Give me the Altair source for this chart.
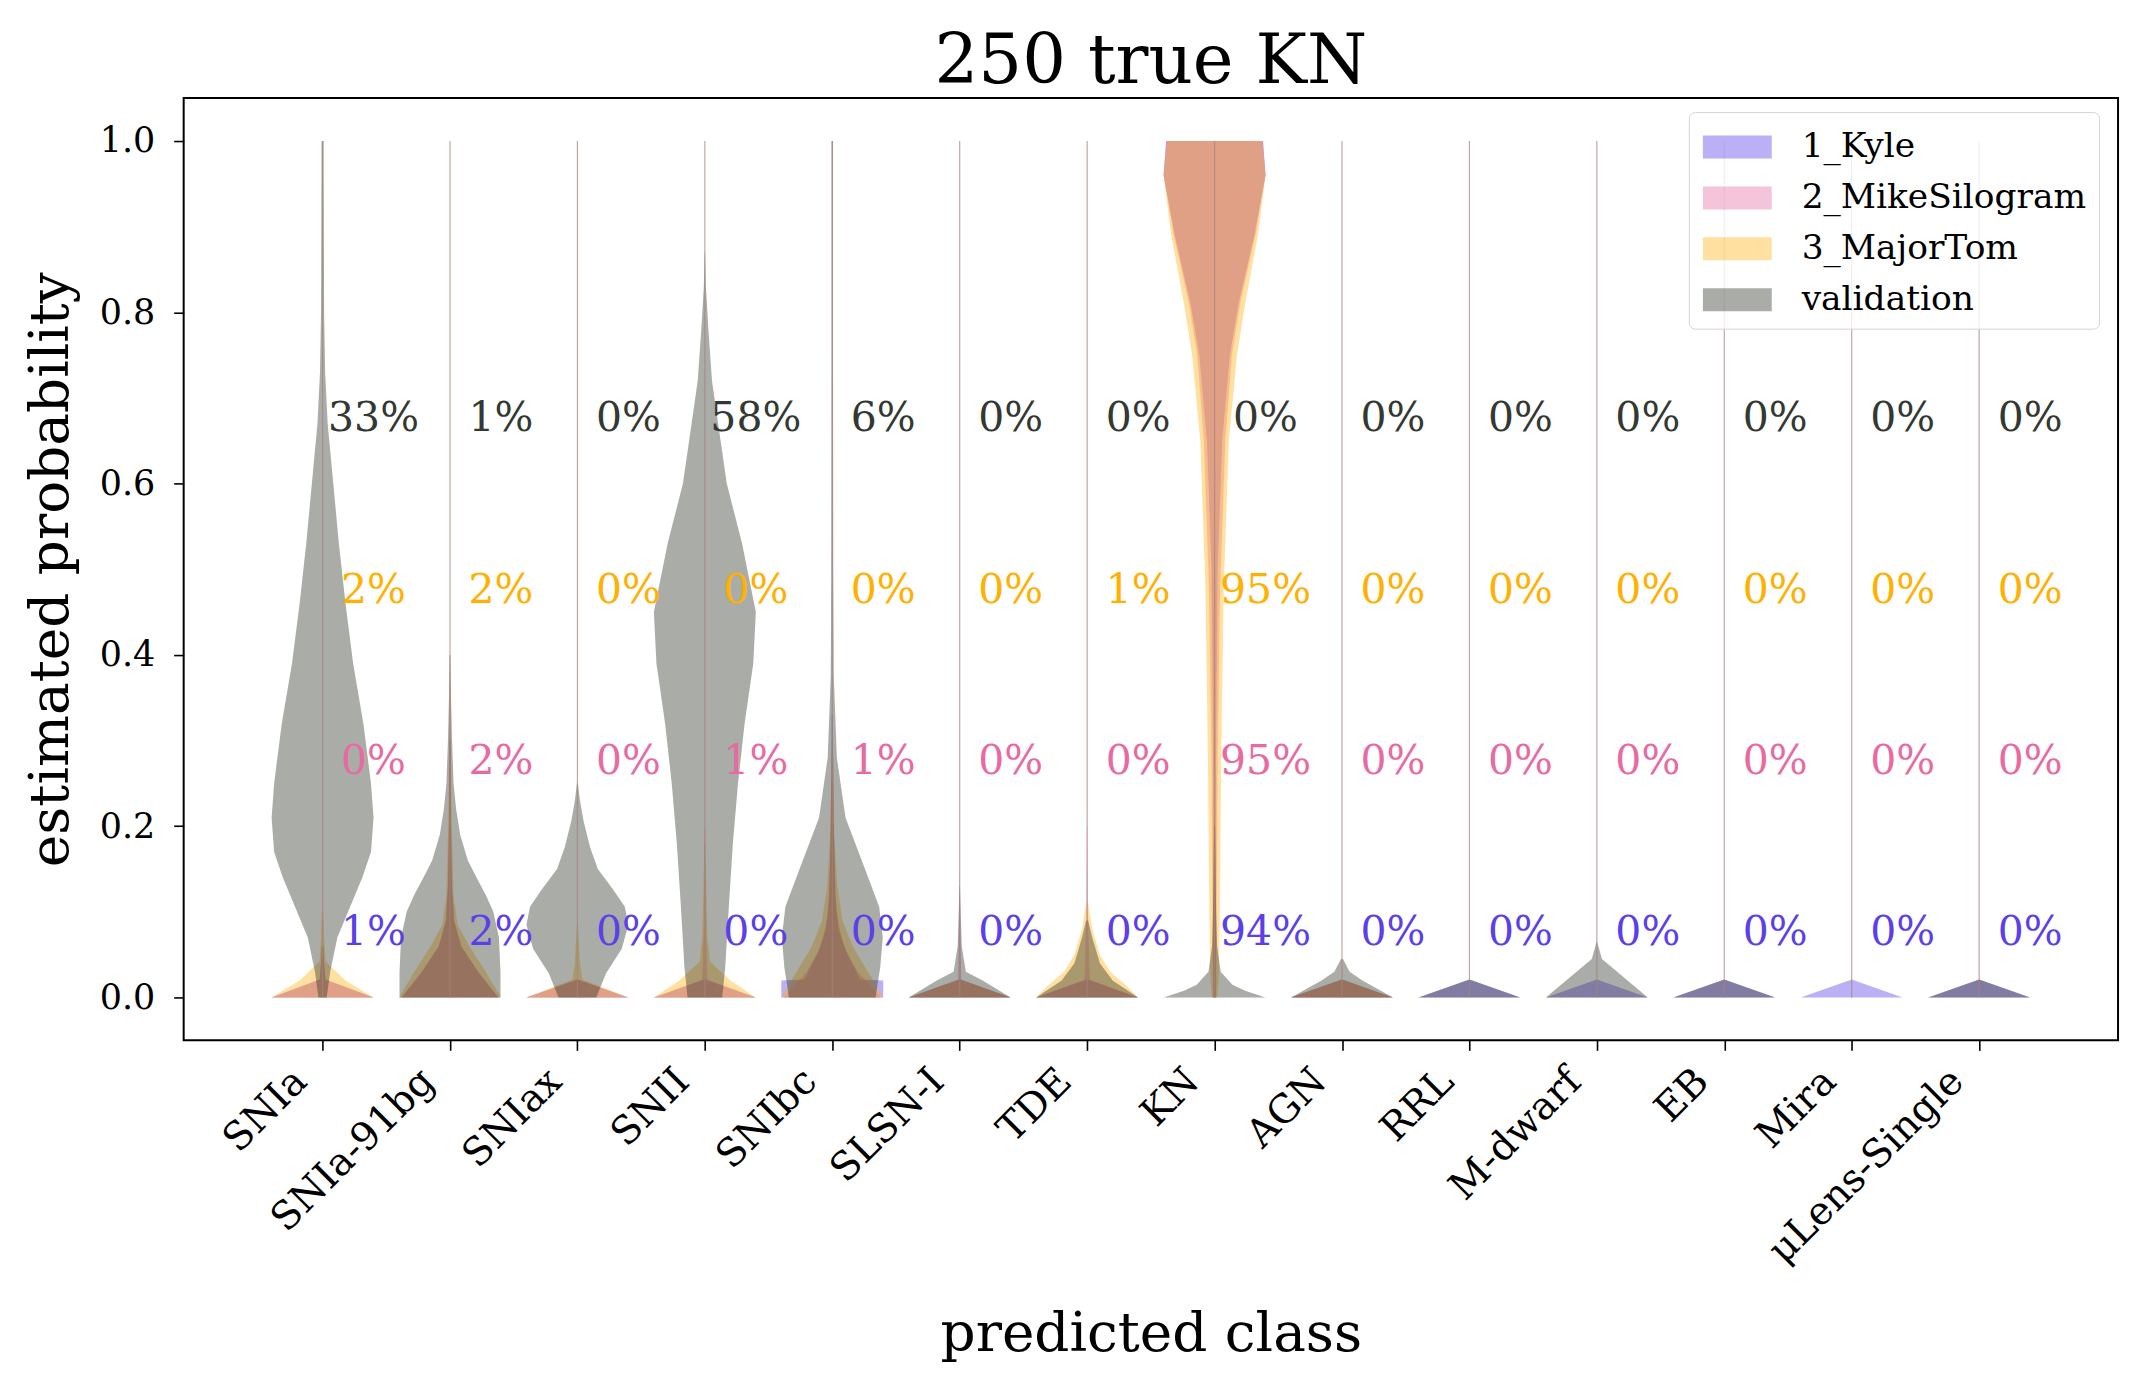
import altair as alt
import pandas as pd

# ---------------- data ----------------
CLASSES = ["SNIa", "SNIa-91bg", "SNIax", "SNII", "SNIbc", "SLSN-I", "TDE", "KN",
           "AGN", "RRL", "M-dwarf", "EB", "Mira", "μLens-Single"]
SERIES = ["1_Kyle", "2_MikeSilogram", "3_MajorTom", "validation"]

# percentage labels (share of objects classified as each class)
PCT_KYLE = [1, 2, 0, 0, 0, 0, 0, 94, 0, 0, 0, 0, 0, 0]
PCT_MIKE = [0, 2, 0, 1, 1, 0, 0, 95, 0, 0, 0, 0, 0, 0]
PCT_TOM = [2, 2, 0, 0, 0, 0, 1, 95, 0, 0, 0, 0, 0, 0]
PCT_VAL = [33, 1, 0, 58, 6, 0, 0, 0, 0, 0, 0, 0, 0, 0]

# violin extrema (thin line from min to max of each class)
VIOLIN_MIN = [0.0, 0.0, 0.0, 0.0, 0.0, 0.0, 0.0, 0.0, 0.0, 0.0, 0.0, 0.0, 0.0, 0.0]
VIOLIN_MAX = [1.0, 1.0, 1.0, 1.0, 1.0, 1.0, 1.0, 1.0, 1.0, 1.0, 1.0, 1.0, 1.0, 1.0]

# violin density profiles: [probability, relative density]
TRI = [[0.0, 1.0], [0.021, 0.0]]

KYLE_PROFILES = [
    [[0.0, 1.0], [0.021, 0.06], [0.04, 0.03], [0.06, 0.02]],
    [[0.0, 0.95], [0.03, 0.55], [0.06, 0.22], [0.09, 0.08], [0.13, 0.04], [0.2, 0.02], [0.3, 0.008]],
    TRI,
    TRI,
    [[0.0, 1.0], [0.02, 1.0], [0.021, 0.55], [0.05, 0.3], [0.08, 0.12], [0.12, 0.06], [0.2, 0.03], [0.33, 0.01]],
    TRI,
    TRI,
    [[0.0, 0.02], [0.3, 0.03], [0.5, 0.06], [0.65, 0.15], [0.75, 0.3], [0.81, 0.47], [0.89, 0.78], [0.96, 1.0], [1.0, 0.95]],
    TRI,
    TRI,
    TRI,
    TRI,
    TRI,
    TRI,
]

MIKE_PROFILES = [
    [[0.0, 1.0], [0.021, 0.05], [0.05, 0.02]],
    [[0.0, 0.95], [0.03, 0.55], [0.06, 0.22], [0.09, 0.08], [0.13, 0.04], [0.2, 0.02], [0.3, 0.008]],
    TRI,
    [[0.0, 1.0], [0.021, 0.05], [0.08, 0.02], [0.2, 0.006]],
    [[0.0, 0.95], [0.03, 0.5], [0.06, 0.22], [0.1, 0.08], [0.16, 0.04], [0.25, 0.015]],
    [[0.0, 1.0], [0.021, 0.03], [0.1, 0.008], [0.15, 0.003]],
    [[0.0, 1.0], [0.021, 0.05], [0.1, 0.015], [0.2, 0.005]],
    [[0.0, 0.03], [0.08, 0.04], [0.28, 0.06], [0.48, 0.11], [0.65, 0.21], [0.75, 0.34], [0.81, 0.5], [0.89, 0.8], [0.96, 1.0], [1.0, 0.95]],
    TRI,
    None, None, None, None, None,
]

TOM_PROFILES = [
    [[0.0, 1.0], [0.02, 0.45], [0.042, 0.06], [0.07, 0.03], [0.1, 0.015]],
    [[0.0, 1.0], [0.03, 0.7], [0.06, 0.38], [0.085, 0.15], [0.12, 0.07], [0.2, 0.035], [0.3, 0.015], [0.38, 0.004]],
    [[0.0, 1.0], [0.021, 0.1], [0.04, 0.05], [0.085, 0.01]],
    [[0.0, 1.0], [0.02, 0.5], [0.042, 0.1], [0.07, 0.05], [0.12, 0.03], [0.18, 0.01]],
    [[0.0, 1.0], [0.03, 0.7], [0.06, 0.4], [0.09, 0.2], [0.13, 0.1], [0.19, 0.04], [0.3, 0.01]],
    TRI,
    [[0.0, 1.0], [0.015, 0.75], [0.03, 0.45], [0.05, 0.25], [0.08, 0.1], [0.11, 0.02]],
    [[0.0, 0.05], [0.02, 0.08], [0.085, 0.1], [0.28, 0.13], [0.48, 0.18], [0.65, 0.28], [0.75, 0.44], [0.81, 0.6], [0.89, 0.85], [0.96, 1.0], [1.0, 0.93]],
    TRI,
    None, None, None, None, None,
]

VAL_PROFILES = [
    [[0.0, 0.08], [0.03, 0.15], [0.07, 0.29], [0.1, 0.5], [0.14, 0.78], [0.17, 0.95], [0.21, 1.0], [0.25, 0.95],
     [0.32, 0.8], [0.39, 0.6], [0.46, 0.45], [0.53, 0.32], [0.6, 0.21], [0.67, 0.1], [0.73, 0.05], [0.8, 0.03],
     [0.9, 0.025], [1.0, 0.02]],
    [[0.0, 0.99], [0.03, 0.99], [0.07, 0.96], [0.1, 0.85], [0.12, 0.7], [0.14, 0.52], [0.16, 0.35], [0.19, 0.2],
     [0.22, 0.12], [0.25, 0.07], [0.3, 0.04], [0.35, 0.02], [0.4, 0.01]],
    [[0.0, 0.37], [0.028, 0.56], [0.057, 0.87], [0.085, 1.0], [0.106, 0.93], [0.126, 0.7], [0.15, 0.4],
     [0.175, 0.25], [0.206, 0.12], [0.23, 0.05], [0.25, 0.01]],
    [[0.0, 0.34], [0.035, 0.4], [0.106, 0.47], [0.18, 0.55], [0.25, 0.65], [0.32, 0.78], [0.39, 0.95], [0.45, 1.0],
     [0.53, 0.73], [0.6, 0.43], [0.67, 0.26], [0.72, 0.14], [0.78, 0.07], [0.83, 0.02], [0.87, 0.005]],
    [[0.0, 0.85], [0.035, 0.94], [0.07, 0.99], [0.106, 0.92], [0.155, 0.61], [0.21, 0.26], [0.28, 0.09],
     [0.375, 0.03], [0.5, 0.02], [0.75, 0.015], [1.0, 0.015]],
    [[0.0, 1.0], [0.02, 0.45], [0.03, 0.12], [0.06, 0.04], [0.13, 0.005]],
    [[0.0, 1.0], [0.02, 0.5], [0.04, 0.25], [0.07, 0.1], [0.09, 0.02]],
    [[0.0, 1.0], [0.008, 0.6], [0.015, 0.35], [0.03, 0.12], [0.06, 0.05], [0.1, 0.03], [0.2, 0.01]],
    [[0.0, 1.0], [0.02, 0.4], [0.03, 0.15], [0.045, 0.02]],
    TRI,
    [[0.0, 1.0], [0.045, 0.1], [0.066, 0.0]],
    TRI,
    None,
    TRI,
]

# ---------------- styles ----------------
FILL = ["#5539e6", "#e16ba2", "#ffb112", "#2a2f25"]
TEXT_COLOR = ["#5b3fe8", "#e86aa3", "#ffb000", "#333833"]
LABEL_LEVEL = [0.075, 0.275, 0.475, 0.675]
HALF_WIDTH = 0.4
LABEL_SHIFT = 0.4
FONT = "DejaVu Serif"

PROFILES = [KYLE_PROFILES, MIKE_PROFILES, TOM_PROFILES, VAL_PROFILES]
PCTS = [PCT_KYLE, PCT_MIKE, PCT_TOM, PCT_VAL]

# ---------------- tables ----------------
rows = []
for s, profs in zip(SERIES, PROFILES):
    for ci, prof in enumerate(profs):
        if prof is None:
            continue
        for p, d in prof:
            rows.append({"series": s, "cls": CLASSES[ci], "pos": ci, "p": p, "d": d,
                         "xl": ci - HALF_WIDTH * d, "xr": ci + HALF_WIDTH * d})
violin_df = pd.DataFrame(rows)

trows = []
for si, s in enumerate(SERIES):
    for ci, v in enumerate(PCTS[si]):
        trows.append({"series": s, "tx": ci + LABEL_SHIFT, "label": f"{v}%", "level": LABEL_LEVEL[si],
                      "tcolor": TEXT_COLOR[si]})
text_df = pd.DataFrame(trows)

rule_df = pd.DataFrame({"pos": list(range(len(CLASSES))), "lo": VIOLIN_MIN, "hi": VIOLIN_MAX})

# ---------------- scales / axes ----------------
x_scale = alt.Scale(domain=[-1.09, 14.09], nice=False, zero=False)
y_scale = alt.Scale(domain=[-0.05, 1.05], nice=False, zero=False)
color_scale = alt.Scale(domain=SERIES, range=FILL)

label_expr = "[" + ",".join("'" + c + "'" for c in CLASSES) + "][datum.value]"

X_AXIS = alt.Axis(
    values=list(range(len(CLASSES))), labelExpr=label_expr, grid=False, domain=False,
    labelAngle=-45, labelAlign="right", labelBaseline="top", labelOffset=-36, labelPadding=11,
    labelFont=FONT, labelFontSize=39, labelColor="black", labelOverlap=False, labelFlush=False,
    labelLimit=1000,
    tickSize=10, tickWidth=1.6, tickColor="black",
    title="predicted class", titleFont=FONT, titleFontSize=55, titleFontWeight="normal",
    titleColor="black", titleX=969, titleY=294, titleBaseline="middle", titleAlign="center", titleAngle=0,
)
Y_AXIS = alt.Axis(
    values=[0.0, 0.2, 0.4, 0.6, 0.8, 1.0], format=".1f", grid=False, domain=False,
    labelFont=FONT, labelFontSize=35, labelColor="black", labelPadding=19, labelFlush=False,
    labelOverlap=False, tickSize=10, tickWidth=1.6, tickColor="black",
    title="estimated probability", titleFont=FONT, titleFontSize=55, titleFontWeight="normal",
    titleColor="black", titleX=-133, titleY=472, titleBaseline="middle", titleAlign="center", titleAngle=-90,
)

LEGEND = alt.Legend(
    title=None, orient="none", legendX=1508, legendY=14,
    symbolType="M-0.91,-0.5L2.09,-0.5L2.09,0.5L-0.91,0.5Z", symbolSize=2116,
    symbolOpacity=0.4, symbolStrokeWidth=0,
    labelFont=FONT, labelFontSize=34.5, labelColor="black", labelOffset=55, labelLimit=600,
    rowPadding=11, padding=12, strokeColor="#d4d4d4", fillColor="rgba(255,255,255,0.8)",
    cornerRadius=6,
)

base = alt.Chart(violin_df)


def violin_layer(s):
    return base.transform_filter(alt.datum.series == s).mark_area(
        orient="horizontal", opacity=0.4
    ).encode(
        y=alt.Y("p:Q", scale=y_scale, axis=Y_AXIS),
        x=alt.X("xl:Q", scale=x_scale, axis=X_AXIS),
        x2="xr",
        color=alt.Color("series:N", scale=color_scale, legend=LEGEND),
        detail="cls:N",
    )


violins = [violin_layer(s) for s in SERIES]

rules = alt.Chart(rule_df).mark_rule(color="#a97f7f", strokeWidth=1.2, opacity=0.7).encode(
    x=alt.X("pos:Q", scale=x_scale, axis=X_AXIS),
    y=alt.Y("lo:Q", scale=y_scale, axis=Y_AXIS),
    y2="hi",
)

texts = alt.Chart(text_df).mark_text(
    font=FONT, fontSize=41, align="center", baseline="middle"
).encode(
    x=alt.X("tx:Q", scale=x_scale, axis=X_AXIS),
    y=alt.Y("level:Q", scale=y_scale, axis=Y_AXIS),
    text="label:N",
    color=alt.Color("tcolor:N", scale=None),
)

chart = alt.layer(*violins, rules, texts).properties(
    width=1938, height=944,
    autosize=alt.AutoSizeParams(type="none"),
    padding={"left": 176, "top": 89, "right": 20, "bottom": 340},
    title=alt.TitleParams("250 true KN", font=FONT, fontSize=69, fontWeight="normal", color="black",
                          anchor="middle", frame="group", baseline="alphabetic", offset=19, dy=73),
).configure_view(stroke="black", strokeWidth=2)

chart.save("out.html", embed_options={"renderer": "svg", "actions": False})
